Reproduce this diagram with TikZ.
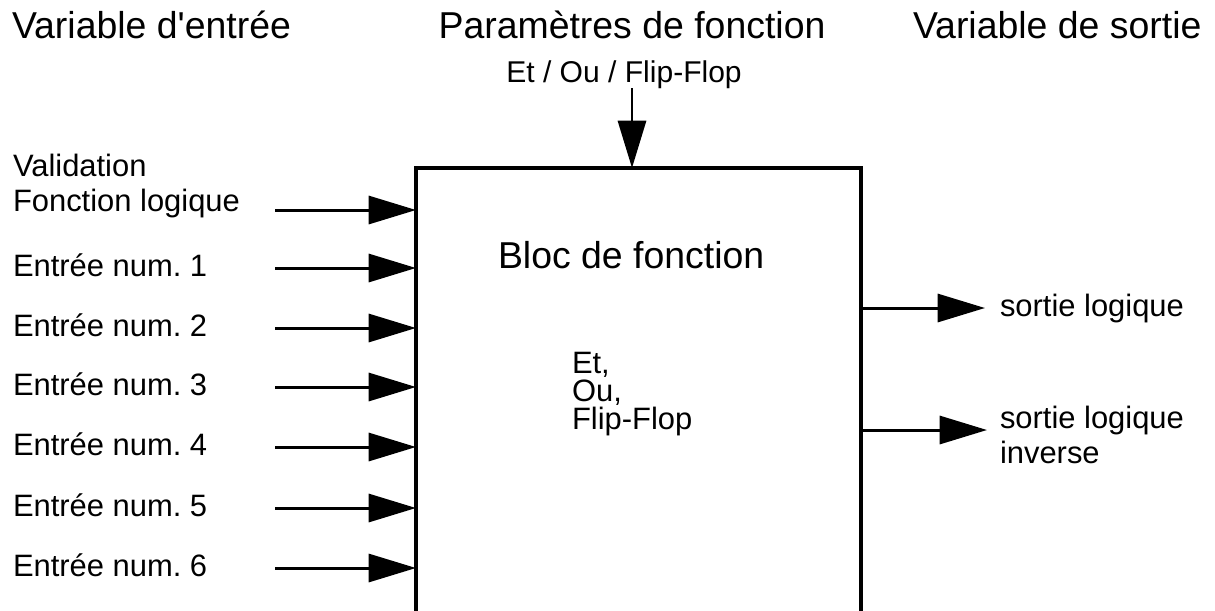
\documentclass[tikz,border=0pt]{standalone}
\usepackage{fontspec}
\setmainfont{Liberation Sans}[Ligatures=TeXOff]
\usetikzlibrary{arrows.meta}

\begin{document}
\begin{tikzpicture}[x=0.02cm, y=-0.02cm, line width=1.7pt,
      -{Triangle[length=27pt, width=16pt]},
      every node/.append style={inner sep=0pt, outer sep=0pt},
      titre/.style={font=\fontsize{21.3}{24}\selectfont},
      etiq/.style={font=\fontsize{17.6}{19.9}\selectfont, align=left, anchor=base west},
      bloc/.style={draw, line width=2pt, minimum width=8.9cm, minimum height=9.4cm, anchor=north west}]
    \useasboundingbox (0,0) rectangle (1215,610);
    \clip (0,0) rectangle (1215,610);
    % titres
    \node[titre, anchor=base west] (VE) at (12,38) {Variable d'entrée};
    \node[titre, anchor=base] (PF) at (632,38) {Paramètres de fonction};
    \node[titre, anchor=base west] (VS) at (913,38) {Variable de sortie};
    \node[etiq, anchor=base, font=\fontsize{17.1}{19}\selectfont] (ETOU) at (624,82) {Et / Ou / Flip-Flop};
    % bloc
    \node[bloc] (BLOC) at (416,168) {};
    \node[titre, anchor=base west] (NOM) at (498,268) {Bloc de fonction};
    \node[etiq, font=\fontsize{17.6}{15.9}\selectfont] (FCT) at (572,429) {Et,\\Ou,\\Flip-Flop};
    \coordinate (H) at (632,88);
    \draw (H) -- (H |- BLOC.north);
    % entrees
    \node[etiq] (VAL) at (13,211) {Validation\\Fonction logique};
    \coordinate (D0) at (275,210);
    \draw (D0) -- (D0 -| BLOC.west);
    \foreach \y [count=\i] in {268,328,387,447,508,568} {
      \node[etiq] (E\i) at (13,\y+8) {Entrée num.\ \i};
      \coordinate (D\i) at (275,\y);
      \draw (D\i) -- (D\i -| BLOC.west);
    }
    % sorties
    \coordinate (S1) at (985,308);
    \coordinate (S2) at (987,430);
    \draw (BLOC.east |- S1) -- (S1);
    \draw (BLOC.east |- S2) -- (S2);
    \node[etiq] (SL) at (1000,316) {sortie logique};
    \node[etiq] (SLI) at (1000,463) {sortie logique\\inverse};
  \end{tikzpicture}
\end{document}
